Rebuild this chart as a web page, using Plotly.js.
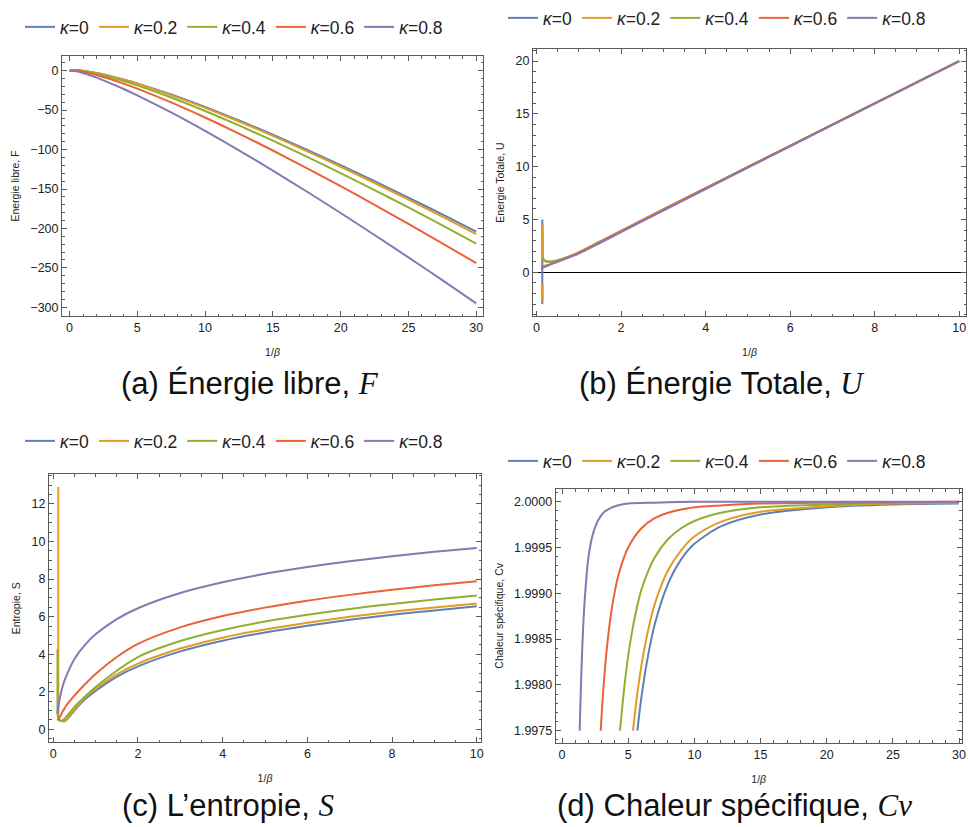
<!DOCTYPE html>
<html>
<head>
<meta charset="utf-8">
<script src="https://cdn.plot.ly/plotly-3.0.1.min.js"></script>
<style>html,body{margin:0;padding:0;background:#fff;}#chart{width:968px;height:827px;}</style>
</head>
<body>
<div id="chart"></div>
<script>
// ---------- data ----------
const seriesNames = ['<i>κ</i>=0', '<i>κ</i>=0.2', '<i>κ</i>=0.4', '<i>κ</i>=0.6', '<i>κ</i>=0.8'];
const seriesColors = ['#5E81B5', '#E19C24', '#8FB032', '#EB6235', '#8778B3'];

// (a) free energy F vs 1/beta
const fX   = [0, 0.5, 1, 2, 3, 4, 5, 7.5, 10, 12.5, 15, 17.5, 20, 22.5, 25, 27.5, 30];
const fK0  = [0, 0.7, 0, -2.8, -6.6, -11.1, -16.1, -30.2, -46.1, -63.1, -81.2, -100.2, -119.8, -140.1, -160.9, -182.3, -204.1];
const fK02 = [0, 0.6, -0.1, -3.0, -6.9, -11.5, -16.6, -31.0, -47.1, -64.4, -82.7, -101.9, -121.8, -142.4, -163.4, -185.0, -207.1];
const fK04 = [0, 0.4, -0.5, -3.8, -8.1, -13.1, -18.6, -34.0, -51.1, -69.4, -88.7, -108.9, -129.8, -151.4, -173.4, -196.0, -219.1];
const fK06 = [0, 0.0, -1.3, -5.4, -10.6, -16.4, -22.7, -40.2, -59.4, -79.8, -101.2, -123.5, -146.4, -170.1, -194.2, -218.8, -244.0];
const fK08 = [0, -0.8, -3.0, -8.8, -15.7, -23.2, -31.2, -53.0, -76.4, -101.0, -126.7, -153.2, -180.4, -208.3, -236.7, -265.6, -295.0];

// (b) total energy U vs 1/beta
const uX   = [0.11, 0.15, 0.2, 0.3, 0.4, 0.5, 0.75, 1, 1.5, 2, 3, 4, 5, 6, 7, 8, 9, 10];
const uK0  = [null, 1.3, 1.1, 1.0, 1.03, 1.12, 1.46, 1.88, 2.9, 3.92, 5.95, 7.97, 9.98, 11.98, 13.99, 15.99, 18.0, 20.0];
const uK02 = [null, 1.35, 1.12, 1.03, 1.05, 1.14, 1.48, 1.9, 2.91, 3.93, 5.96, 7.97, 9.98, 11.98, 13.99, 15.99, 18.0, 20.0];
const uK04 = [1.3, 1.2, 1.05, 0.99, 1.02, 1.1, 1.45, 1.87, 2.89, 3.91, 5.95, 7.97, 9.98, 11.98, 13.99, 15.99, 18.0, 20.0];
const uK06 = [0.6, 0.6, 0.63, 0.73, 0.87, 1.03, 1.42, 1.84, 2.86, 3.88, 5.92, 7.94, 9.96, 11.97, 13.98, 15.99, 17.99, 20.0];
const uK08 = [0.32, 0.42, 0.52, 0.7, 0.86, 1.0, 1.38, 1.78, 2.78, 3.8, 5.85, 7.88, 9.91, 11.93, 13.95, 15.97, 17.99, 20.0];
// near-pole vertical segments
const uSpikeK0x  = [0.137, 0.137, 0.15];
const uSpikeK0   = [-3.0, 5.0, 1.3];
const uSpikeK02x = [0.145, 0.145, null, 0.145, 0.15];
const uSpikeK02  = [-2.7, -1.1, null, 4.5, 1.35];

// (c) entropy S vs 1/beta
const sX   = [0.1, 0.12, 0.15, 0.2, 0.25, 0.3, 0.4, 0.5, 0.75, 1, 1.5, 2, 3, 4, 5, 6, 7, 8, 9, 10];
const sK0  = [null, null, null, 0.5, 0.42, 0.48, 0.72, 1.0, 1.6, 2.05, 2.8, 3.35, 4.15, 4.72, 5.16, 5.52, 5.83, 6.1, 6.33, 6.55];
const sK02 = [null, 0.5, 0.47, 0.44, 0.43, 0.5, 0.78, 1.06, 1.7, 2.15, 2.93, 3.5, 4.3, 4.88, 5.32, 5.68, 5.99, 6.26, 6.49, 6.7];
const sK04 = [0.8, 0.6, 0.5, 0.45, 0.52, 0.65, 0.92, 1.2, 1.75, 2.25, 3.12, 3.85, 4.7, 5.29, 5.74, 6.1, 6.41, 6.68, 6.91, 7.13];
const sK06 = [0.55, 0.5, 0.62, 0.85, 1.05, 1.24, 1.53, 1.8, 2.4, 2.95, 3.85, 4.55, 5.43, 6.03, 6.48, 6.85, 7.16, 7.43, 7.67, 7.88];
const sK08 = [0.85, 1.2, 1.6, 2.1, 2.5, 2.8, 3.3, 3.75, 4.5, 5.06, 5.87, 6.45, 7.26, 7.83, 8.28, 8.64, 8.95, 9.22, 9.45, 9.66];
const sSpikeK02x = [0.12, 0.12];
const sSpikeK02  = [12.9, 0.5];
const sSpikeK04x = [0.1, 0.1];
const sSpikeK04  = [4.26, 0.8];

// (d) specific heat Cv vs 1/beta
const cK0x  = [5.69, 6, 6.5, 7, 8, 9, 10, 12, 15, 20, 25, 30];
const cK0   = [1.9975, 1.99787, 1.99832, 1.99866, 1.9991, 1.99937, 1.99954, 1.99973, 1.99986, 1.99994, 1.99997, 1.99998];
const cK02x = [5.36, 5.7, 6.2, 7, 8, 9, 10, 12, 15, 20, 25, 30];
const cK02  = [1.9975, 1.99792, 1.99838, 1.99888, 1.99925, 1.99947, 1.99962, 1.99978, 1.99989, 1.99995, 1.99998, 1.99999];
const cK04x = [4.38, 4.7, 5, 5.5, 6, 7, 8, 9, 10, 12, 15, 20, 25, 30];
const cK04  = [1.9975, 1.99797, 1.99832, 1.99874, 1.99904, 1.99939, 1.99959, 1.99971, 1.99979, 1.99988, 1.99994, 1.99997, 1.99999, 1.99999];
const cK06x = [2.92, 3.1, 3.4, 3.8, 4.3, 5, 6, 7, 8, 10, 12, 15, 20, 30];
const cK06  = [1.9975, 1.99791, 1.99842, 1.99887, 1.99922, 1.9995, 1.99971, 1.99982, 1.99988, 1.99994, 1.99996, 1.99998, 1.99999, 2.0];
const cK08x = [1.33, 1.45, 1.6, 1.8, 2.0, 2.3, 2.7, 3.2, 4, 5, 7, 10, 15, 30];
const cK08  = [1.9975, 1.9981, 1.99865, 1.9991, 1.9994, 1.99963, 1.99979, 1.99989, 1.99995, 1.99998, 1.99999, 2.0, 2.0, 2.0];

const panelTitles = [
  '(a) Énergie libre, <span style="font-family:\'Liberation Serif\';font-style:italic">F</span>',
  '(b) Énergie Totale, <span style="font-family:\'Liberation Serif\';font-style:italic">U</span>',
  '(c) L’entropie, <span style="font-family:\'Liberation Serif\';font-style:italic">S</span>',
  '(d) Chaleur spécifique, <span style="font-family:\'Liberation Serif\';font-style:italic">Cv</span>'
];
const yTitles = ['Energie libre, F', 'Energie Totale, U', 'Entropie, S', 'Chaleur spécifique, Cv'];
const xTitle = '1/<i>β</i>';

// ---------- traces ----------
const W = 968, H = 827;
const traces = [];
function add(x, y, i, ax, legend, showlegend, spline) {
  traces.push({
    x: x, y: y, type: 'scatter', mode: 'lines',
    name: seriesNames[i], legend: legend, showlegend: showlegend,
    line: {color: seriesColors[i], width: 2, shape: spline ? 'spline' : 'linear', smoothing: 0.8},
    xaxis: 'x' + ax, yaxis: 'y' + ax, hoverinfo: 'skip', connectgaps: false
  });
}
const fS = [fK0, fK02, fK04, fK06, fK08];
fS.forEach((s, i) => add(fX, s, i, '', 'legend', true, true));

add(uSpikeK0x, uSpikeK0, 0, '2', 'legend2', false, false);
add(uSpikeK02x, uSpikeK02, 1, '2', 'legend2', false, false);
const uS = [uK0, uK02, uK04, uK06, uK08];
uS.forEach((s, i) => add(uX, s, i, '2', 'legend2', true, true));

const sS = [sK0, sK02, sK04, sK06, sK08];
sS.forEach((s, i) => {
  if (i === 1) add(sSpikeK02x, sSpikeK02, 1, '3', 'legend3', false, false);
  if (i === 2) add(sSpikeK04x, sSpikeK04, 2, '3', 'legend3', false, false);
  add(sX, s, i, '3', 'legend3', true, true);
});

const cXs = [cK0x, cK02x, cK04x, cK06x, cK08x];
const cS = [cK0, cK02, cK04, cK06, cK08];
cS.forEach((s, i) => add(cXs[i], s, i, '4', 'legend4', true, true));

// ---------- layout ----------
const frame = '#5a5a5a';
function axis(domain, range, dtick, minorDtick, extra) {
  return Object.assign({
    domain: domain, range: range, dtick: dtick, tick0: 0,
    showline: true, linecolor: frame, linewidth: 1, mirror: 'allticks',
    ticks: 'inside', ticklen: 5, tickwidth: 1, tickcolor: frame,
    minor: {ticks: 'inside', ticklen: 2.5, dtick: minorDtick, tickcolor: frame, tickwidth: 1},
    showgrid: false, zeroline: false,
    tickfont: {family: 'Liberation Sans, Arial, sans-serif', size: 12.5, color: '#222'},
    fixedrange: true
  }, extra || {});
}
function px(x) { return x / W; }
function py(y) { return 1 - y / H; }
const titleFont = {family: 'Liberation Sans, Arial, sans-serif', size: 10.5, color: '#222'};

const layout = {
  width: W, height: H, margin: {l: 0, r: 0, t: 0, b: 0},
  paper_bgcolor: '#fff', plot_bgcolor: '#fff', showlegend: true,
  font: {family: 'Liberation Sans, Arial, sans-serif', color: '#222'},
  xaxis:  axis([px(62), px(483)], [-0.55, 30.5], 5, 1, {anchor: 'y', title: {text: xTitle, font: titleFont, standoff: 14}}),
  yaxis:  axis([py(316), py(56)], [-311, 18.6], 50, 10, {anchor: 'x', title: {text: yTitles[0], font: titleFont, standoff: 8}}),
  xaxis2: axis([px(533), px(966)], [-0.083, 10.16], 2, 0.5, {anchor: 'y2', title: {text: xTitle, font: titleFont, standoff: 14}}),
  yaxis2: axis([py(316), py(49)], [-4.13, 21.14], 5, 1, {anchor: 'x2', zeroline: true, zerolinecolor: '#000', zerolinewidth: 1, title: {text: yTitles[1], font: titleFont, standoff: 8}}),
  xaxis3: axis([px(49), px(481)], [-0.1, 10.1], 2, 0.5, {anchor: 'y3', title: {text: xTitle, font: titleFont, standoff: 14}}),
  yaxis3: axis([py(742.3), py(474.3)], [-0.69, 13.58], 2, 0.5, {anchor: 'x3', title: {text: yTitles[2], font: titleFont, standoff: 8}}),
  xaxis4: axis([px(555.7), px(961.7)], [-0.48, 30.2], 5, 1, {anchor: 'y4', title: {text: xTitle, font: titleFont, standoff: 14}}),
  yaxis4: axis([py(742.7), py(489)], [1.997369, 2.000139], 0.0005, 0.0001, {anchor: 'x4', tick0: 2, tickformat: '.4f', title: {text: yTitles[3], font: titleFont, standoff: 8}}),
  annotations: [
    {text: panelTitles[0], x: px(250), y: py(383)},
    {text: panelTitles[1], x: px(722), y: py(383)},
    {text: panelTitles[2], x: px(228), y: py(805)},
    {text: panelTitles[3], x: px(734), y: py(805)}
  ].map(a => Object.assign(a, {xref: 'paper', yref: 'paper', xanchor: 'center', yanchor: 'middle', showarrow: false,
      font: {family: 'Liberation Sans, Arial, sans-serif', size: 31, color: '#111'}}))
};
const legendBase = {orientation: 'h', xanchor: 'left', yanchor: 'middle', bgcolor: 'rgba(0,0,0,0)',
  font: {family: 'Liberation Sans, Arial, sans-serif', size: 17.5, color: '#222'}, itemclick: false, itemdoubleclick: false};
layout.legend  = Object.assign({}, legendBase, {x: px(20), y: py(27)});
layout.legend2 = Object.assign({}, legendBase, {x: px(503), y: py(18)});
layout.legend3 = Object.assign({}, legendBase, {x: px(20), y: py(441)});
layout.legend4 = Object.assign({}, legendBase, {x: px(503), y: py(461)});

Plotly.newPlot('chart', traces, layout, {staticPlot: true, displayModeBar: false});
</script>
</body>
</html>
